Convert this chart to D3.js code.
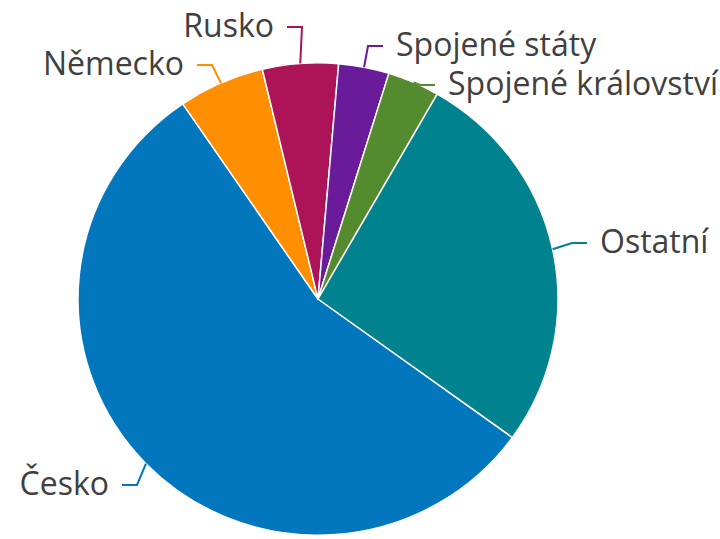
<!DOCTYPE html>
<html>
<head>
<meta charset="utf-8">
<script src="https://cdn.jsdelivr.net/npm/d3@7"></script>
<style>
  html, body { margin: 0; padding: 0; background: #fff; }
  svg { display: block; }
  text { font-family: "Open Sans", sans-serif; }
</style>
</head>
<body>
<svg id="chart" width="720" height="539"></svg>
<script>
// data (shares in %)
const categories = ['Česko', 'Německo', 'Rusko', 'Spojené státy', 'Spojené království', 'Ostatní'];
const shares     = [55.5, 5.8, 5.1, 3.4, 3.5, 26.7];
const colors     = ['#0277bd', '#ff8f00', '#ad1457', '#6a1b9a', '#558b2f', '#00838f'];

// where each label's connector ends (layout, not data)
const labelAt = [[122, 485], [197, 65], [287, 27], [383, 46], [435, 85], [587, 243]];

const W = 720, H = 539;
const cx = 318, cy = 299, R = 240, squash = 0.984;
const startDeg = 125.9;

const svg = d3.select('#chart');

const pie = d3.pie().sort(null).value(d => d.v)
  .startAngle(startDeg * Math.PI / 180)
  .endAngle(startDeg * Math.PI / 180 + 2 * Math.PI);

const rows = categories.map((c, i) => ({ name: c, v: shares[i], color: colors[i], lab: labelAt[i] }));
const arcs = pie(rows);
const arc = d3.arc().innerRadius(0).outerRadius(R);

const g = svg.append('g').attr('transform', `translate(${cx},${cy}) scale(1,${squash})`);

g.selectAll('path.slice')
  .data(arcs)
  .join('path')
  .attr('class', 'slice')
  .attr('d', arc)
  .attr('fill', d => d.data.color)
  .attr('stroke', '#fff')
  .attr('stroke-width', 1.5)
  .attr('stroke-linejoin', 'round');

// connectors + labels
const lab = svg.append('g');
arcs.forEach(d => {
  const mid = (d.startAngle + d.endAngle) / 2;
  const px = cx + R * Math.sin(mid);
  const py = cy - R * squash * Math.cos(mid);
  const dir = Math.sin(mid) >= 0 ? 1 : -1;
  const [lx, ly] = d.data.lab;
  const bx = lx - dir * 15;

  lab.append('path')
    .attr('d', `M${px},${py}L${bx},${ly}L${lx},${ly}`)
    .attr('fill', 'none')
    .attr('stroke', d.data.color)
    .attr('stroke-width', 2);

  lab.append('text')
    .attr('x', lx + dir * 13)
    .attr('y', ly + 9.5)
    .attr('text-anchor', dir > 0 ? 'start' : 'end')
    .attr('fill', '#404040')
    .attr('font-size', 32)
    .text(d.data.name);
});
</script>
</body>
</html>
